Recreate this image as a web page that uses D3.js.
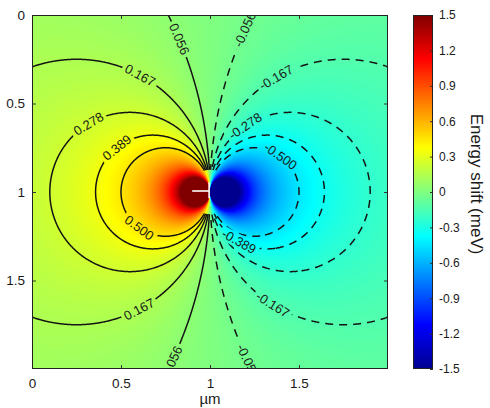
<!DOCTYPE html>
<html>
<head>
<meta charset="utf-8">
<script src="https://cdn.jsdelivr.net/npm/d3@7"></script>
<style>
  body { margin: 0; background: #fff; }
  text { font-family: "Liberation Sans", Arial, sans-serif; fill: #1a1a1a; }
</style>
</head>
<body>
<div class="box"></div>
<script>
//////////////////// données ////////////////////
const xTicks = [0, 0.5, 1, 1.5];
const yTicks = [0, 0.5, 1, 1.5];
const cbTicks = [-1.5, -1.2, -0.9, -0.6, -0.3, 0, 0.3, 0.6, 0.9, 1.2, 1.5];
const colorRange = [-1.5, 1.5];

// contour levels (meV): solid for positive, dashed for negative
const posLevels = [0.0556, 0.1667, 0.2778, 0.3889, 0.5];
const negLevels = [-0.5, -0.3889, -0.2778, -0.1667, -0.0556];

// dipole source (µm, meV·µm)
const sourceX = 1;
const sourceY = 1;
const strength = 0.25;
const coreRadius = 0.125;   // contours are not drawn inside this radius
const shadeGamma = 1.1;     // the map in the picture runs a bit greener far from the source

// white marker at the source (µm)
const markerX = [0.9, 0.995];
const markerY = [0.945, 1.035];

// inline contour labels: level and rough spot (µm)
const labelLevels = [0.1667, 0.2778, 0.3889, 0.5, 0.1667, 0.0556, 0.0556,
                     -0.0556, -0.1667, -0.2778, -0.5, -0.3889, -0.1667, -0.0556];
const labelX = [0.61, 0.31, 0.47, 0.61, 0.60, 0.84, 0.79,
                1.19, 1.37, 1.19, 1.40, 1.17, 1.35, 1.21];
const labelY = [0.33, 0.60, 0.74, 1.19, 1.66, 0.13, 1.96,
                0.08, 0.35, 0.62, 0.79, 1.27, 1.64, 1.96];

//////////////////// mise en place ////////////////////
const W = 490, H = 408;

const svg = d3.select('.box')
              .append('svg')
              .attr('width', W)
              .attr('height', H);

const x = d3.scaleLinear().domain([0, 2]).range([32, 388]);
const y = d3.scaleLinear().domain([0, 2]).range([15, 369]);
const cbY = d3.scaleLinear().domain(colorRange).range([369, 15]);

// jet
const jetStops = [-1.5, -1.125, -0.375, 0.375, 1.125, 1.5];
const jetColors = ['#00008f', '#0000ff', '#00ffff', '#ffff00', '#ff0000', '#800000'];
const colour = d3.scaleLinear().domain(jetStops).range(jetColors).clamp(true);
const shadeOf = v => {
    const m = colorRange[1];
    const s = Math.sign(v) * m * Math.pow(Math.min(Math.abs(v) / m, 1), shadeGamma);
    return colour(s);
};

const field = (px, py) => {
    const dx = sourceX - px, dy = py - sourceY;
    const r2 = dx * dx + dy * dy;
    return r2 < 1e-12 ? 0 : strength * dx / r2;
};

const [x0, x1] = x.range();
const [y0, y1] = y.range();
const pw = x1 - x0, ph = y1 - y0;

//////////////////// heatmap ////////////////////
const canvas = document.createElement('canvas');
canvas.width = pw;
canvas.height = ph;
const ctx = canvas.getContext('2d');
const img = ctx.createImageData(pw, ph);
for (let j = 0; j < ph; j++) {
    for (let i = 0; i < pw; i++) {
        const c = d3.rgb(shadeOf(field(x.invert(x0 + i + 0.5), y.invert(y0 + j + 0.5))));
        const k = (j * pw + i) * 4;
        img.data[k] = c.r; img.data[k + 1] = c.g; img.data[k + 2] = c.b; img.data[k + 3] = 255;
    }
}
ctx.putImageData(img, 0, 0);

svg.append('image')
   .attr('x', x0).attr('y', y0)
   .attr('width', pw).attr('height', ph)
   .attr('preserveAspectRatio', 'none')
   .attr('href', canvas.toDataURL());

//////////////////// contours ////////////////////
const step = 0.005, g0 = -0.1025, n = 442;
const grid = new Float64Array(n * n);
for (let j = 0; j < n; j++)
    for (let i = 0; i < n; i++)
        grid[j * n + i] = field(g0 + i * step, g0 + j * step);

const levels = negLevels.concat(posLevels);
const contours = d3.contours().size([n, n]).thresholds(levels)(grid);

const gx2px = c => x(g0 + (c - 0.5) * step);
const gy2px = c => y(g0 + (c - 0.5) * step);
const proj = d3.geoTransform({
    point: function(a, b) { this.stream.point(gx2px(a), gy2px(b)); }
});
const path = d3.geoPath(proj);

const defs = svg.append('defs');
defs.append('clipPath').attr('id', 'plotClip')
    .append('rect').attr('x', x0).attr('y', y0).attr('width', pw).attr('height', ph);

const mask = defs.append('mask').attr('id', 'lineMask')
                 .attr('maskUnits', 'userSpaceOnUse')
                 .attr('x', 0).attr('y', 0).attr('width', W).attr('height', H);
mask.append('rect').attr('width', W).attr('height', H).attr('fill', '#fff');
mask.append('circle')
    .attr('cx', x(sourceX)).attr('cy', y(sourceY))
    .attr('r', x(coreRadius) - x(0))
    .attr('fill', '#000');

const lines = svg.append('g')
                 .attr('clip-path', 'url(#plotClip)')
                 .append('g')
                 .attr('mask', 'url(#lineMask)');

lines.selectAll('path')
     .data(contours)
     .enter()
     .append('path')
     .attr('d', path)
     .attr('fill', 'none')
     .attr('stroke', '#141414')
     .attr('stroke-width', 1.5)
     .attr('stroke-dasharray', d => d.value < 0 ? '8,6' : null);

// étiquettes
const labels = svg.append('g').attr('clip-path', 'url(#plotClip)');

labelLevels.forEach((lev, idx) => {
    const ct = contours.find(c => Math.abs(c.value - lev) < 1e-6);
    const tx = x(labelX[idx]), ty = y(labelY[idx]);
    let best = null, bd = Infinity;
    ct.coordinates.forEach(poly => poly.forEach(ring => {
        const pts = ring.map(p => [gx2px(p[0]), gy2px(p[1])]);
        pts.forEach((p, k) => {
            const d = (p[0] - tx) ** 2 + (p[1] - ty) ** 2;
            if (d < bd) { bd = d; best = {pts, k}; }
        });
    }));
    const {pts, k} = best;
    const m = pts.length - 1;
    const a = pts[(k - 4 + m) % m], b = pts[(k + 4) % m];
    let ang = Math.atan2(b[1] - a[1], b[0] - a[0]) * 180 / Math.PI;
    if (ang > 90) ang -= 180;
    if (ang < -90) ang += 180;
    const p = pts[k];
    const tr = `translate(${p[0]},${p[1]}) rotate(${ang})`;

    const t = labels.append('text')
                    .attr('transform', tr)
                    .attr('text-anchor', 'middle')
                    .attr('dominant-baseline', 'central')
                    .style('font-size', '13px')
                    .text((lev < 0 ? '-' : '') + Math.abs(lev).toFixed(3));
    const w = t.node().getComputedTextLength() + 6;
    mask.append('rect')
        .attr('transform', tr)
        .attr('x', -w / 2).attr('y', -7)
        .attr('width', w).attr('height', 14)
        .attr('fill', '#000');
});

// marqueur blanc
svg.append('line')
   .attr('x1', x(markerX[0])).attr('x2', x(markerX[1]))
   .attr('y1', y(sourceY) - 1).attr('y2', y(sourceY) - 1)
   .attr('stroke', '#fff').attr('stroke-width', 1.6);
svg.append('line')
   .attr('x1', x(markerX[1])).attr('x2', x(markerX[1]))
   .attr('y1', y(markerY[0])).attr('y2', y(markerY[1]))
   .attr('stroke', '#fff').attr('stroke-width', 1.6);

//////////////////// axes ////////////////////
const fmt = d => String(+d.toFixed(2));

const axB = svg.append('g')
               .attr('transform', `translate(0,${y1})`)
               .call(d3.axisBottom(x).tickValues(xTicks).tickSize(-4).tickSizeOuter(0)
                       .tickPadding(9).tickFormat(fmt));
const axL = svg.append('g')
               .attr('transform', `translate(${x0},0)`)
               .call(d3.axisLeft(y).tickValues(yTicks).tickSize(-4).tickSizeOuter(0)
                       .tickPadding(7).tickFormat(fmt));
const axT = svg.append('g')
               .attr('transform', `translate(0,${y0})`)
               .call(d3.axisTop(x).tickValues(xTicks).tickSize(-4).tickSizeOuter(0).tickFormat(''));
const axR = svg.append('g')
               .attr('transform', `translate(${x1},0)`)
               .call(d3.axisRight(y).tickValues(yTicks).tickSize(-4).tickSizeOuter(0).tickFormat(''));

[axB, axL, axT, axR].forEach(g => {
    g.select('.domain').remove();
    g.selectAll('line').attr('stroke', '#333');
    g.selectAll('text').attr('fill', '#1a1a1a')
     .style('font-size', '13.5px').style('font-family', '"Liberation Sans", Arial, sans-serif');
});

svg.append('rect')
   .attr('x', x0 + 0.5).attr('y', y0 + 0.5)
   .attr('width', pw - 1).attr('height', ph - 1)
   .attr('fill', 'none').attr('stroke', '#222').attr('stroke-width', 1);

svg.append('text')
   .attr('x', x(1)).attr('y', 404)
   .attr('text-anchor', 'middle')
   .style('font-size', '15px')
   .text('µm');

//////////////////// colorbar ////////////////////
const cbX = 413, cbW = 20;
const grad = defs.append('linearGradient')
                 .attr('id', 'jet')
                 .attr('x1', 0).attr('y1', 1).attr('x2', 0).attr('y2', 0);
grad.selectAll('stop')
    .data(jetStops)
    .enter()
    .append('stop')
    .attr('offset', d => (d - colorRange[0]) / (colorRange[1] - colorRange[0]))
    .attr('stop-color', d => colour(d));

svg.append('rect')
   .attr('x', cbX).attr('y', cbY(colorRange[1]))
   .attr('width', cbW).attr('height', cbY(colorRange[0]) - cbY(colorRange[1]))
   .attr('fill', 'url(#jet)');

const axC = svg.append('g')
               .attr('transform', `translate(${cbX + cbW},0)`)
               .call(d3.axisRight(cbY).tickValues(cbTicks).tickSize(-3).tickSizeOuter(0)
                       .tickPadding(6).tickFormat(d => String(+d.toFixed(1))));
axC.select('.domain').remove();
axC.selectAll('line').attr('stroke', '#333');
axC.selectAll('text').attr('fill', '#1a1a1a')
   .style('font-size', '12px').style('font-family', '"Liberation Sans", Arial, sans-serif');

svg.append('rect')
   .attr('x', cbX + 0.5).attr('y', cbY(colorRange[1]) + 0.5)
   .attr('width', cbW - 1).attr('height', cbY(colorRange[0]) - cbY(colorRange[1]) - 1)
   .attr('fill', 'none').attr('stroke', '#222');

svg.append('text')
   .attr('transform', `translate(476,${cbY(0) - 8}) rotate(90)`)
   .attr('text-anchor', 'middle')
   .attr('dominant-baseline', 'central')
   .style('font-size', '17px')
   .text('Energy shift (meV)');
</script>
</body>
</html>
